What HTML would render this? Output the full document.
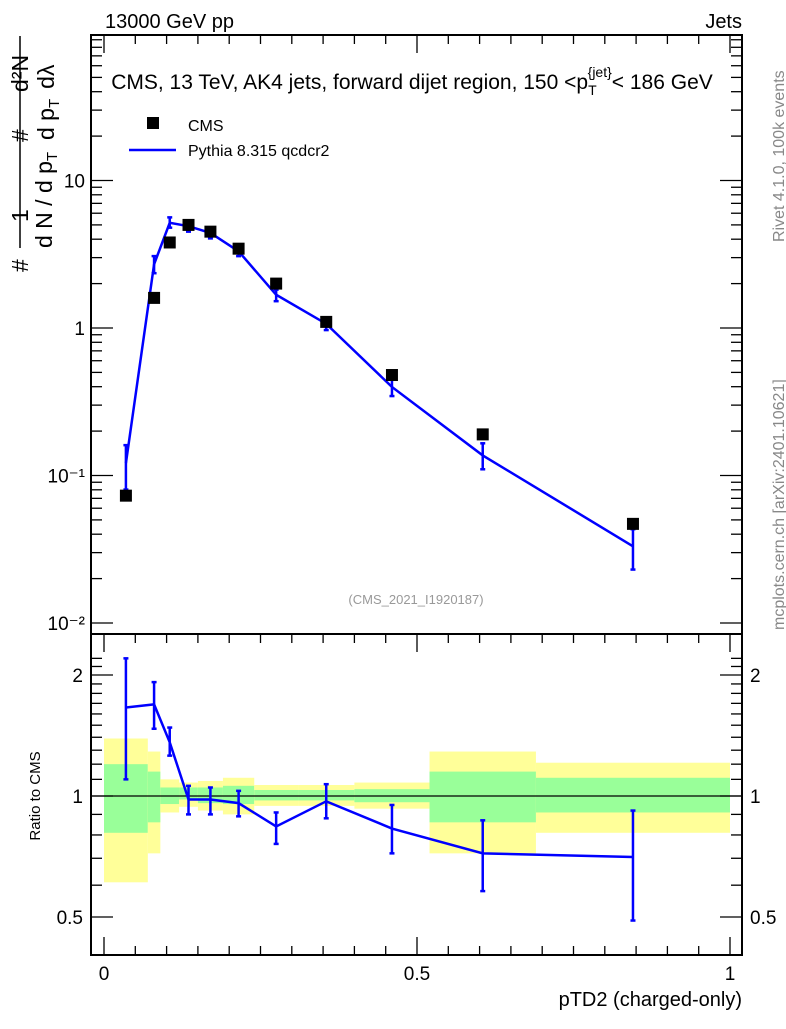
<!DOCTYPE html>
<html><head><meta charset="utf-8"><style>
body{margin:0;background:#fff}
svg text{font-family:"Liberation Sans",Arial,sans-serif}
</style></head><body>
<svg id="c" width="786" height="1024" xmlns="http://www.w3.org/2000/svg">
<text x="105" y="28" font-size="20">13000 GeV pp</text>
<text x="742" y="28" font-size="20" text-anchor="end">Jets</text>
<text x="412" y="89" font-size="21" text-anchor="middle">CMS, 13 TeV, AK4 jets, forward dijet region, 150 &lt;p<tspan font-size="14" dy="6">T</tspan><tspan font-size="14" dy="-18" dx="-9">{jet}</tspan><tspan dy="12">&lt; 186 GeV</tspan></text>
<text x="416" y="604" font-size="13" fill="#999" text-anchor="middle">(CMS_2021_I1920187)</text>
<text transform="translate(784,242) rotate(-90)" font-size="16" fill="#888">Rivet 4.1.0,  100k events</text>
<text transform="translate(784,630) rotate(-90)" font-size="16" fill="#888">mcplots.cern.ch [arXiv:2401.10621]</text>
<g font-size="23">
<text transform="translate(28,272) rotate(-90)">#</text>
<text transform="translate(28,222) rotate(-90)">1</text>
<line x1="20" y1="248" x2="20" y2="36" stroke="#000" stroke-width="1.5"/>
<text transform="translate(52,248) rotate(-90)">d N / d p<tspan font-size="15" dy="5">T</tspan></text>
<text transform="translate(28,142) rotate(-90)">#</text>
<text transform="translate(54,140) rotate(-90)">d p<tspan font-size="15" dy="5">T</tspan><tspan dx="10" dy="-5">dλ</tspan></text>
<text transform="translate(28,92) rotate(-90)">d²N</text>
</g>
<text transform="translate(40,796) rotate(-90)" font-size="15" text-anchor="middle">Ratio to CMS</text>
<text x="742" y="1006" font-size="20" text-anchor="end">pTD2 (charged-only)</text>
<rect x="147" y="117" width="12" height="12" fill="#000"/>
<text x="188" y="131" font-size="16">CMS</text>
<line x1="129" y1="150" x2="176" y2="150" stroke="#00f" stroke-width="2.5"/>
<text x="188" y="156" font-size="16">Pythia 8.315 qcdcr2</text>
<g id="bands"></g><g id="axes"></g><g id="marks"></g>
</svg>
<script>
const edges=[0,0.07,0.09,0.12,0.15,0.19,0.24,0.31,0.40,0.52,0.69,1.0];
const xs=[0.035,0.08,0.105,0.135,0.17,0.215,0.275,0.355,0.46,0.605,0.845];
const cmsVals=[0.073,1.6,3.8,5.0,4.5,3.45,2.0,1.1,0.48,0.19,0.047];
const ratio=[1.66,1.69,1.36,0.98,0.98,0.96,0.84,0.97,0.83,0.72,0.705];
const ratioHi=[2.20,1.92,1.48,1.06,1.05,1.03,0.91,1.07,0.95,0.87,0.92];
const ratioLo=[1.10,1.47,1.26,0.90,0.90,0.89,0.76,0.88,0.72,0.58,0.49];
const yelHi=[1.39,1.29,1.10,1.08,1.09,1.11,1.065,1.065,1.08,1.29,1.21];
const yelLo=[0.61,0.72,0.91,0.94,0.92,0.90,0.945,0.945,0.93,0.72,0.81];
const grnHi=[1.20,1.15,1.05,1.05,1.05,1.06,1.035,1.035,1.04,1.15,1.11];
const grnLo=[0.81,0.86,0.955,0.98,0.96,0.955,0.975,0.975,0.965,0.86,0.91];
const mainTicks=["10⁻²","10⁻¹","1","10"];
const ratioTicks=[0.5,1,2];
const xTicks=[0,0.5,1];

const L=91,R=742,T=35,M=634,B=955;
const X=v=>104+626*v;
const Y=v=>328-147.5*Math.log10(v);
const YR=v=>796-402*Math.log10(v);
const NS="http://www.w3.org/2000/svg";
function mk(p,t,a){const e=document.createElementNS(NS,t);for(const k in a)e.setAttribute(k,a[k]);document.getElementById(p).appendChild(e);return e;}
for(let i=0;i<xs.length;i++){
 const y=mk('bands','rect',{x:X(edges[i]),y:YR(yelHi[i]),width:X(edges[i+1])-X(edges[i]),height:YR(yelLo[i])-YR(yelHi[i]),fill:'#ffff99'});
 
 
 const g=mk('bands','rect',{x:X(edges[i]),y:YR(grnHi[i]),width:X(edges[i+1])-X(edges[i]),height:YR(grnLo[i])-YR(grnHi[i]),fill:'#99ff99'});
 
 
}
mk('axes','line',{x1:L,y1:YR(1),x2:R,y2:YR(1),stroke:'#000','stroke-width':1.3});
const f1=mk('axes','rect',{x:L,y:T,width:R-L,height:M-T,fill:'none',stroke:'#000','stroke-width':2});


const f2=mk('axes','rect',{x:L,y:M,width:R-L,height:B-M,fill:'none',stroke:'#000','stroke-width':2});


for(let d=-2;d<=1;d++){
 for(let m=1;m<=9;m++){const v=m*Math.pow(10,d);const y=Y(v);if(y<T||y>M)continue;
  const len=m==1?22:11;
  mk('axes','line',{x1:L,y1:y,x2:L+len,y2:y,stroke:'#000','stroke-width':1.3});
  mk('axes','line',{x1:R,y1:y,x2:R-len,y2:y,stroke:'#000','stroke-width':1.3});}
 const t=mk('axes','text',{x:L-6,y:Y(Math.pow(10,d))+7,'font-size':19,'text-anchor':'end'});t.textContent=mainTicks[d+2];
 
 
}
for(let v=0.5;v<=2.3;v+=0.1){const y=YR(v);if(y<M||y>B)continue;
 const maj=ratioTicks.some(r=>Math.abs(r-v)<1e-6);const len=maj?22:11;
 mk('axes','line',{x1:L,y1:y,x2:L+len,y2:y,stroke:'#000','stroke-width':1.3});
 mk('axes','line',{x1:R,y1:y,x2:R-len,y2:y,stroke:'#000','stroke-width':1.3});}
ratioTicks.forEach(r=>{const y=YR(r);const lab=String(r);
 const a=mk('axes','text',{x:L-8,y:y+7,'font-size':19,'text-anchor':'end'});a.textContent=lab;
 
 
 const b=mk('axes','text',{x:R+8,y:y+7,'font-size':19});b.textContent=lab;
 
 });
for(let i=0;i<=20;i++){const v=i*0.05;const x=X(v);const maj=i%10==0;const len=maj?18:9;
 [[T,1],[M,1],[B,-1]].forEach(([y0,s])=>{mk('axes','line',{x1:x,y1:y0,x2:x,y2:y0+s*len,stroke:'#000','stroke-width':1.3});});}
xTicks.forEach(v=>{const t=mk('axes','text',{x:X(v),y:980,'font-size':19,'text-anchor':'middle'});t.textContent=String(v);
 
 });
const mc=cmsVals.map((c,i)=>c*ratio[i]);
const pl=mk('marks','polyline',{points:xs.map((x,i)=>X(x)+','+Y(mc[i])).join(' '),fill:'none',stroke:'#00f','stroke-width':2.5});


const rl=mk('marks','polyline',{points:xs.map((x,i)=>X(x)+','+YR(ratio[i])).join(' '),fill:'none',stroke:'#00f','stroke-width':2.5});


function err(x,y1,y2,name){
 const g=mk('marks','g',{stroke:'#00f','stroke-width':2.5});
 
 
 [[x,y1,x,y2],[x-2.5,y1,x+2.5,y1],[x-2.5,y2,x+2.5,y2]].forEach(c=>{const l=document.createElementNS(NS,'line');l.setAttribute('x1',c[0]);l.setAttribute('y1',c[1]);l.setAttribute('x2',c[2]);l.setAttribute('y2',c[3]);g.appendChild(l);});
}
xs.forEach((x,i)=>{
 err(X(x),Y(cmsVals[i]*ratioHi[i]),Y(cmsVals[i]*ratioLo[i]),'pythia-error-bar');
 err(X(x),YR(ratioHi[i]),YR(ratioLo[i]),'ratio-error-bar');
 const s=mk('marks','rect',{x:X(x)-6,y:Y(cmsVals[i])-6,width:12,height:12,fill:'#000'});
 
 
});
</script>
</body></html>
